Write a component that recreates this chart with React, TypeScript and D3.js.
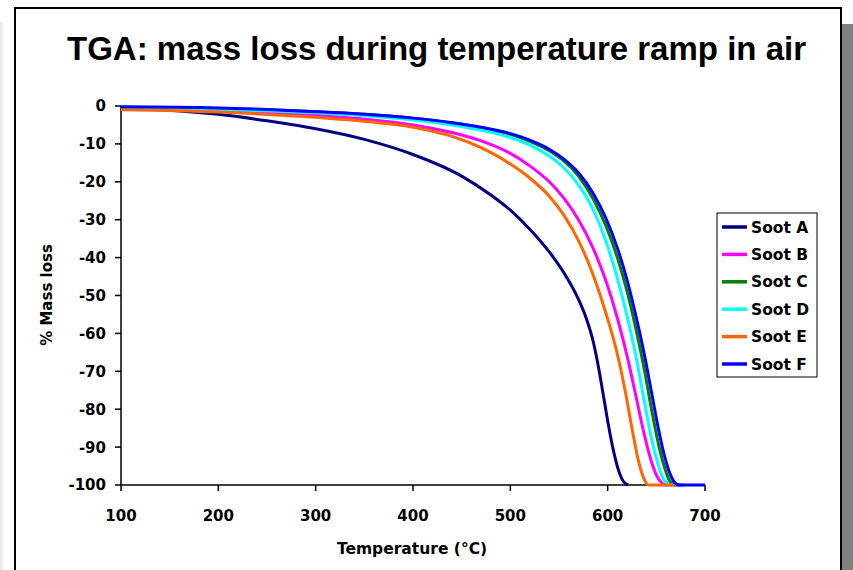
import React from "react";
import * as d3 from "d3";

// Temperature (°C) and mass change (%) per sample
const sootATemp = [100, 150, 200, 250, 300, 350, 400, 450, 480, 500, 520, 540, 555, 570, 578, 585, 591, 596, 601, 606, 611, 616, 621];
const sootAMass = [-0.5, -1.1, -2.2, -3.9, -6.0, -8.8, -12.8, -18.5, -23.5, -27.5, -32.5, -38.5, -44, -51, -56, -62, -69.5, -77, -84.5, -91, -96, -99, -100];

const sootBTemp = [100, 200, 300, 350, 400, 440, 470, 500, 520, 540, 555, 570, 585, 598, 610, 620, 629, 637, 644, 650, 655, 659, 675];
const sootBMass = [-0.7, -1.2, -2.5, -3.5, -5.0, -7.0, -9.2, -12.5, -15.8, -20, -24.3, -30, -37.5, -46, -56, -66, -76.5, -86, -93, -97.3, -99.3, -100, -100];

const sootCTemp = [100, 200, 300, 350, 400, 440, 470, 500, 520, 540, 555, 570, 585, 598, 610, 620, 630, 638, 645, 652, 658, 663, 667, 670, 678];
const sootCMass = [-0.4, -0.7, -1.5, -2.2, -3.2, -4.4, -5.7, -7.5, -9.3, -11.8, -14.5, -18.5, -24.5, -31.5, -40, -49, -60, -70, -80, -89, -95, -98.6, -99.8, -100, -100];

const sootDTemp = [100, 200, 300, 350, 400, 440, 470, 500, 520, 540, 555, 570, 585, 598, 610, 620, 629, 637, 644, 650, 656, 661, 664, 677];
const sootDMass = [-0.5, -0.9, -1.8, -2.6, -3.7, -5.0, -6.4, -8.3, -10.3, -13.2, -16.3, -20.8, -27.3, -35.5, -45.5, -55.5, -66, -77, -86.5, -93, -97.8, -99.6, -100, -100];

const sootETemp = [100, 200, 300, 350, 400, 440, 470, 500, 520, 540, 555, 570, 585, 598, 610, 619, 626, 632, 637, 642, 671];
const sootEMass = [-1.0, -1.6, -3.0, -4.0, -5.6, -8.0, -11, -15.3, -19, -23.8, -28.8, -35.5, -44.5, -54.5, -65.5, -76.5, -86.5, -94, -98.2, -100, -100];

const sootFTemp = [100, 200, 300, 350, 400, 440, 470, 500, 520, 540, 555, 570, 585, 598, 610, 620, 630, 638, 645, 652, 658, 664, 669, 673, 700];
const sootFMass = [-0.2, -0.5, -1.5, -2.2, -3.2, -4.4, -5.6, -7.3, -9.0, -11.4, -14.0, -17.6, -23, -29.5, -37.5, -46, -56.5, -66, -75.5, -85, -92, -97, -99.4, -100, -100];

const seriesNames = ["Soot A", "Soot B", "Soot C", "Soot D", "Soot E", "Soot F"];
const seriesColors = ["#000080", "#FF00FF", "#008000", "#00FFFF", "#FF6600", "#0000FF"];
const seriesTemps = [sootATemp, sootBTemp, sootCTemp, sootDTemp, sootETemp, sootFTemp];
const seriesMasses = [sootAMass, sootBMass, sootCMass, sootDMass, sootEMass, sootFMass];

const xTicks = [100, 200, 300, 400, 500, 600, 700];
const yTicks = [0, -10, -20, -30, -40, -50, -60, -70, -80, -90, -100];

const W = 853;
const H = 570;
const plot = { left: 121, right: 705, top: 106, bottom: 485 };
const tickFont = "'DejaVu Sans', Verdana, sans-serif";

export default function App() {
  const x = d3.scaleLinear().domain([100, 700]).range([plot.left, plot.right]);
  const y = d3.scaleLinear().domain([0, -100]).range([plot.top, plot.bottom]);

  const line = d3
    .line<[number, number]>()
    .x((d) => x(d[0]))
    .y((d) => y(d[1]))
    .curve(d3.curveMonotoneX);

  const legend = { x: 717, y: 213, w: 100, h: 164, rowH: 27.4 };

  return (
    <svg
      width={W}
      height={H}
      style={{ position: "absolute", left: 0, top: 0, background: "#fff" }}
    >
      {/* page edge and drop shadow of the chart frame */}
      <rect x={0} y={22} width={3} height={H - 22} fill="#ececec" />
      <rect x={842} y={24} width={11} height={H - 24} fill="#808080" />
      <rect x={15} y={8} width={826} height={H} fill="#fff" stroke="#000" strokeWidth={2} />

      <text
        x={436.5}
        y={60}
        textAnchor="middle"
        fontFamily="'Liberation Sans', Arial, sans-serif"
        fontWeight="bold"
        fontSize={33}
        fill="#000"
      >
        TGA: mass loss during temperature ramp in air
      </text>

      {/* axes */}
      <line x1={plot.left} x2={plot.left} y1={plot.top} y2={plot.bottom} stroke="#000" strokeWidth={1.5} />
      <line x1={plot.left} x2={plot.right} y1={plot.bottom} y2={plot.bottom} stroke="#000" strokeWidth={1.5} />

      {yTicks.map((t) => (
        <g key={"y" + t}>
          <line x1={plot.left - 6} x2={plot.left} y1={y(t)} y2={y(t)} stroke="#000" strokeWidth={1.5} />
          <text
            x={106}
            y={y(t)}
            dy="0.36em"
            textAnchor="end"
            fontFamily={tickFont}
            fontWeight="bold"
            fontSize={15}
            fill="#000"
          >
            {t}
          </text>
        </g>
      ))}

      {xTicks.map((t) => (
        <g key={"x" + t}>
          <line x1={x(t)} x2={x(t)} y1={plot.bottom} y2={plot.bottom + 6} stroke="#000" strokeWidth={1.5} />
          <text
            x={x(t)}
            y={521}
            textAnchor="middle"
            fontFamily={tickFont}
            fontWeight="bold"
            fontSize={15}
            fill="#000"
          >
            {t}
          </text>
        </g>
      ))}

      <text
        x={412}
        y={554}
        textAnchor="middle"
        fontFamily={tickFont}
        fontWeight="bold"
        fontSize={15.5}
        fill="#000"
      >
        Temperature (°C)
      </text>
      <text
        transform="translate(52,295) rotate(-90)"
        textAnchor="middle"
        fontFamily={tickFont}
        fontWeight="bold"
        fontSize={15}
        fill="#000"
      >
        % Mass loss
      </text>

      {/* curves */}
      <g fill="none" strokeWidth={3} strokeLinejoin="round">
        {seriesNames.map((name, i) => {
          const pts = seriesTemps[i].map((t, j) => [t, seriesMasses[i][j]] as [number, number]);
          return <path key={name} d={line(pts) || ""} stroke={seriesColors[i]} />;
        })}
      </g>

      {/* legend */}
      <rect
        x={legend.x}
        y={legend.y}
        width={legend.w}
        height={legend.h}
        fill="#fff"
        stroke="#000"
        strokeWidth={1}
      />
      {seriesNames.map((name, i) => {
        const cy = legend.y + 14 + i * legend.rowH;
        return (
          <g key={"lg" + name}>
            <line x1={722} x2={747} y1={cy} y2={cy} stroke={seriesColors[i]} strokeWidth={3.5} />
            <text
              x={751}
              y={cy}
              dy="0.36em"
              fontFamily={tickFont}
              fontWeight="bold"
              fontSize={15.5}
              fill="#000"
            >
              {name}
            </text>
          </g>
        );
      })}
    </svg>
  );
}
